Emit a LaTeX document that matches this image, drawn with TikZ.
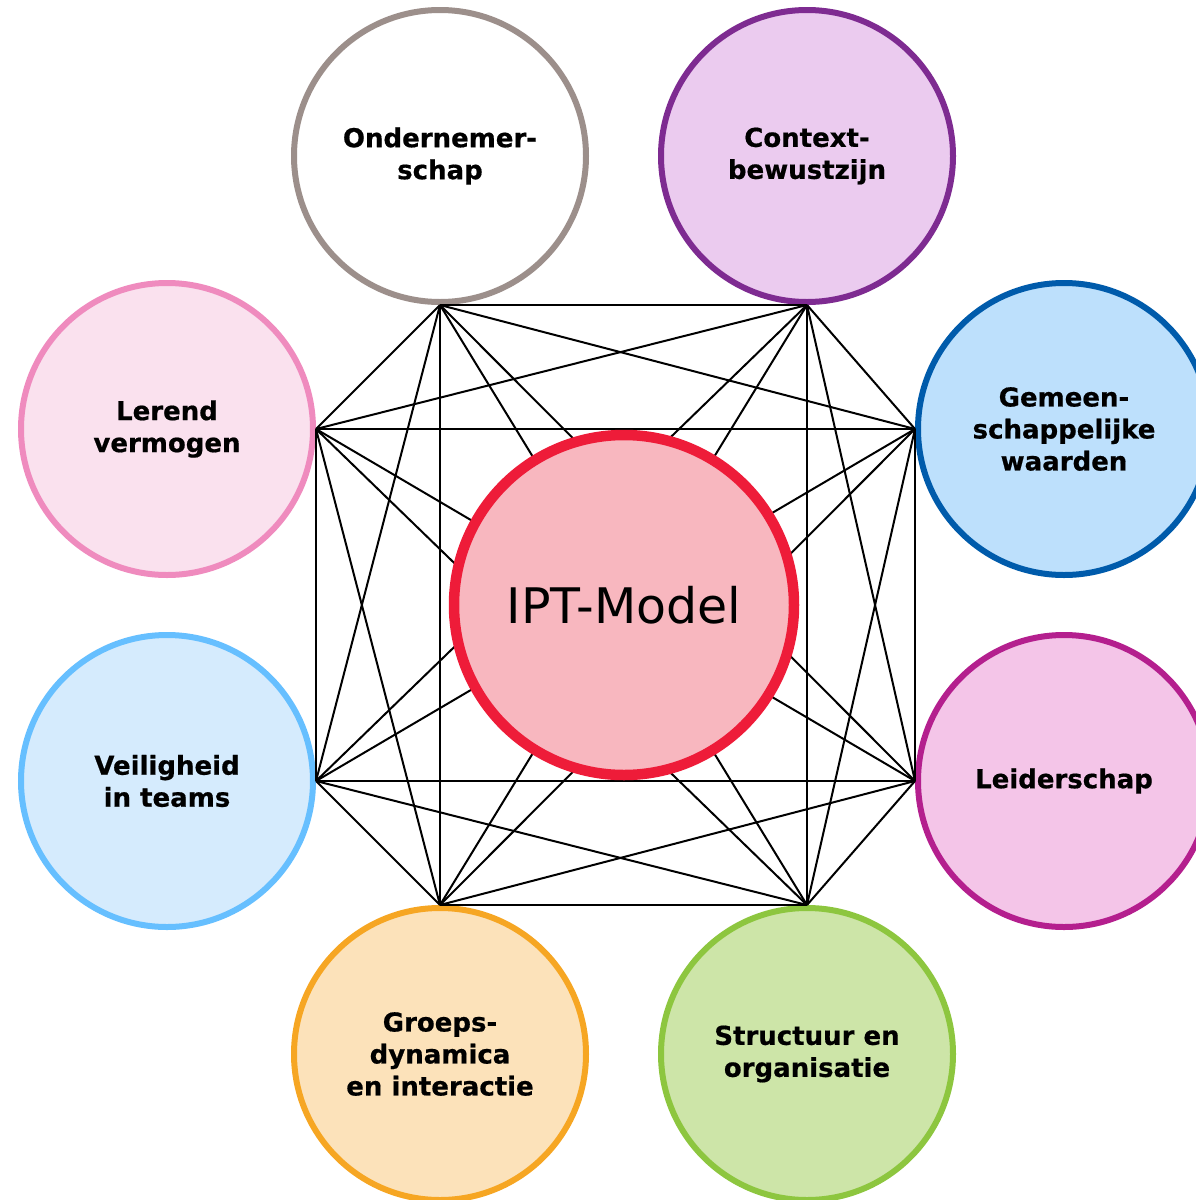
\documentclass[tikz,border=0pt]{standalone}
\usepackage{fontspec}
\setmainfont{DejaVu Sans}[BoldFont={DejaVu Sans Bold},BoldFeatures={FakeBold=0.6}]
\definecolor{ondS}{HTML}{9C8F8B}
\definecolor{ctxS}{HTML}{7E2B91}
\definecolor{ctxF}{HTML}{EBCBEF}
\definecolor{gemS}{HTML}{005BAB}
\definecolor{gemF}{HTML}{BDE0FC}
\definecolor{leiS}{HTML}{B41F8E}
\definecolor{leiF}{HTML}{F4C5E8}
\definecolor{strS}{HTML}{8DC63F}
\definecolor{strF}{HTML}{CDE5A8}
\definecolor{grpS}{HTML}{F6A623}
\definecolor{grpF}{HTML}{FCE2BA}
\definecolor{veiS}{HTML}{66BFFF}
\definecolor{veiF}{HTML}{D5EBFD}
\definecolor{lerS}{HTML}{EF8BBE}
\definecolor{lerF}{HTML}{FAE1EE}
\definecolor{iptS}{HTML}{EE1C39}
\definecolor{iptF}{HTML}{F8B7BF}
\begin{document}
\begin{tikzpicture}[x=1pt,y=-1pt,
  outer/.style={circle, draw, line width=6pt, minimum size=292pt, inner sep=0pt,
    align=center, font=\bfseries\fontsize{26}{32}\selectfont},
  hub/.style={circle, draw=iptS, fill=iptF, line width=10.5pt, minimum size=340pt,
    inner sep=0pt, font=\fontsize{49}{57}\selectfont},
  link/.style={line width=2pt, black}]
\clip (0,0) rectangle (1196,1200);
\node[outer, draw=ondS, fill=white] (O)   at (440,156)  {Ondernemer-\\schap};
\node[outer, draw=ctxS, fill=ctxF]  (C)   at (807,156)  {Context-\\bewustzijn};
\node[outer, draw=gemS, fill=gemF]  (G)   at (1064,429) {Gemeen-\\schappelijke\\waarden};
\node[outer, draw=leiS, fill=leiF]  (Lei) at (1064,781) {Leiderschap};
\node[outer, draw=strS, fill=strF]  (S)   at (807,1054) {Structuur en\\organisatie};
\node[outer, draw=grpS, fill=grpF]  (Gr)  at (440,1054) {Groeps-\\dynamica\\en interactie};
\node[outer, draw=veiS, fill=veiF]  (V)   at (167,781)  {Veiligheid\\in teams};
\node[outer, draw=lerS, fill=lerF]  (Le)  at (167,429)  {Lerend\\vermogen};
\foreach \a [count=\i] in {O.south,C.south,G.west,Lei.west,S.north,Gr.north,V.east,Le.east}{
  \foreach \b [count=\j] in {O.south,C.south,G.west,Lei.west,S.north,Gr.north,V.east,Le.east}{
    \ifnum\j>\i \draw[link] (\a) -- (\b); \fi
  }
}
\node[hub] (IPT) at (624,605) {IPT-Model};
\end{tikzpicture}
\end{document}
